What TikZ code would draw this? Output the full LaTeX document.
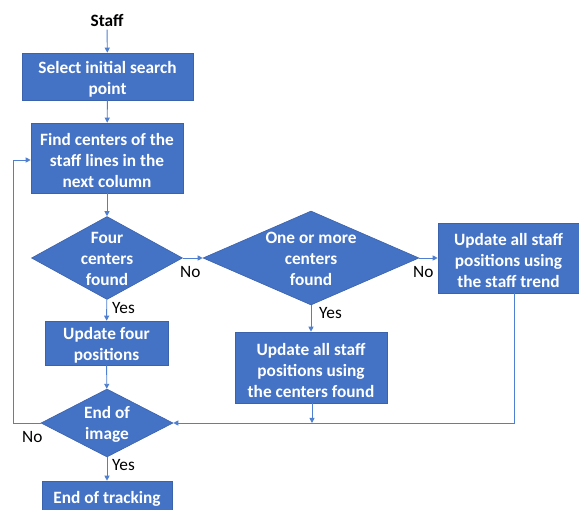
\documentclass[tikz,border=0pt]{standalone}
\usepackage{fontspec}
\setmainfont{Carlito}
\usetikzlibrary{shapes.geometric,arrows.meta}
\definecolor{boxblue}{HTML}{4472C4}
\definecolor{boxedge}{HTML}{3A62AD}
\definecolor{linkblue}{HTML}{4F7FD0}
\tikzset{
  every node/.style={font=\fontsize{17.3}{21}\selectfont},
  boxtext/.style={text=white, font=\fontsize{17.3}{21}\selectfont\bfseries, align=center, inner sep=0pt},
  procbox/.style={rectangle, fill=boxblue, draw=boxedge, line width=0.6pt, inner sep=0pt,
    label={[boxtext, yshift=-2.5pt]center:#1}},
  decide/.style={diamond, fill=boxblue, draw=boxedge, line width=0.6pt, inner sep=0pt,
    label={[boxtext, yshift=-1pt]center:#1}},
  link/.style={draw=linkblue, line width=0.9pt, -{Triangle[length=5pt,width=5pt]}},
  answer/.style={text=black, inner sep=0pt, anchor=west},
}
\begin{document}
\begin{tikzpicture}[x=1pt,y=-1pt]
\useasboundingbox (0,0) rectangle (579,510);
\fill[white] (0,0) rectangle (579,510);

\node[font=\fontsize{17.3}{21}\selectfont\bfseries] (staff) at (107,20) {Staff};
\node[procbox={Select initial search\\point}, minimum width=171pt, minimum height=47pt] (b1) at (107.5,76.5) {};
\node[procbox={Find centers of the\\staff lines in the\\next column}, minimum width=152pt, minimum height=70pt] (b2) at (107,158) {};
\node[decide={Four\\centers\\found}, minimum width=151pt, minimum height=83pt] (d1) at (107,258) {};
\node[decide={One or more\\centers\\found}, minimum width=216pt, minimum height=94pt] (d2) at (311,258) {};
\node[procbox={Update all staff\\positions using\\the staff trend}, minimum width=141pt, minimum height=70pt] (br) at (508.5,258) {};
\node[procbox={Update four\\positions}, minimum width=123pt, minimum height=44pt] (u4) at (106.5,343) {};
\node[procbox={Update all staff\\positions using\\the centers found}, minimum width=152pt, minimum height=71pt] (uc) at (311,367.5) {};
\node[decide={End of\\image}, minimum width=132pt, minimum height=68pt] (d3) at (107,423) {};
\node[procbox={End of tracking}, minimum width=130pt, minimum height=30pt] (e) at (107,496) {};

\coordinate (loopL) at (13,423);
\coordinate (loopT) at (13,160);
\coordinate (brdown) at (514,423);
\coordinate (ucdown) at (312,423);

\draw[link] (staff) -- (b1);
\draw[link] (b1) -- (b2);
\draw[link] (b2) -- (d1);
\draw[link] (d1) -- (u4);
\draw[link] (u4) -- (d3);
\draw[link] (d3) -- (e);
\draw[link] (d1.east) -- (d2.west);
\draw[link] (d2.east) -- (br.west);
\draw[link] (d2) -- (uc);
\draw[link] (br.south -| brdown) -- (brdown) -- (d3.east);
\draw[link] (uc.south -| ucdown) -- (ucdown);
\draw[link] (d3.west) -- (loopL) -- (loopT) -- (b2.west |- loopT);

\node[answer] (y1) at (112,308) {Yes};
\node[answer] (y2) at (319,313) {Yes};
\node[answer] (y3) at (112,465) {Yes};
\node[answer] (n1) at (180,272) {No};
\node[answer] (n2) at (413,272) {No};
\node[answer] (n3) at (22,437) {No};
\end{tikzpicture}
\end{document}
